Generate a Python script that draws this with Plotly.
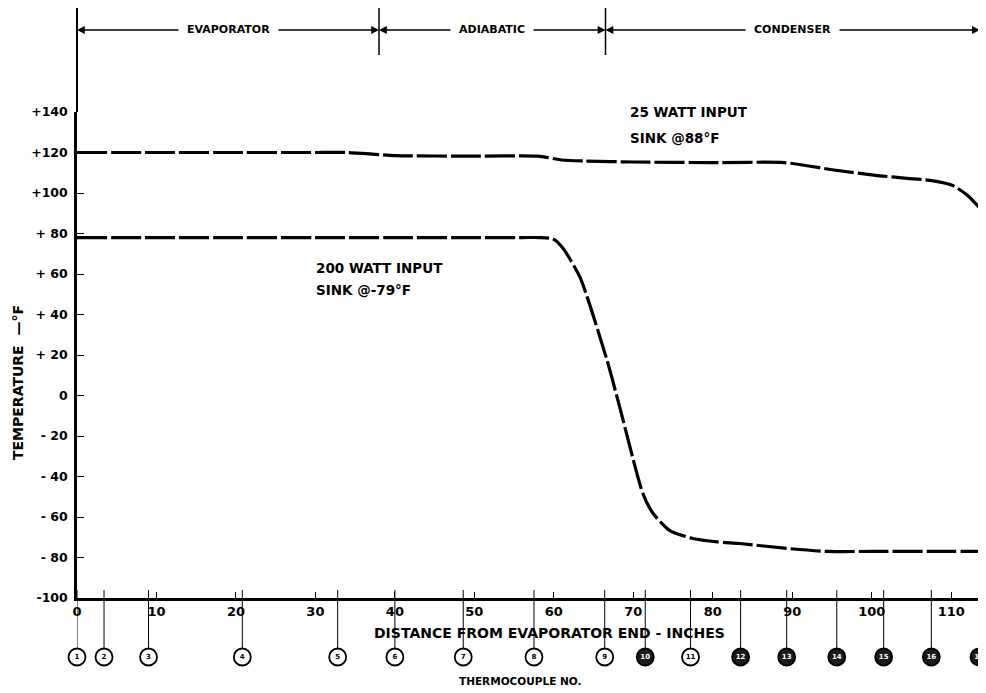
import plotly.graph_objects as go

# ---- data ----
distance_25w = [0, 10, 20, 30, 34, 40, 50, 58, 61, 64, 70, 80, 89, 95, 101, 107.3, 110.2, 112, 113.5]
temp_25w = [120, 120, 120, 120, 120, 118.5, 118.2, 118.2, 116.3, 115.8, 115.3, 115, 115, 111.5, 108.5, 106.2, 103.7, 99, 93]

distance_200w = [0, 10, 20, 30, 40, 50, 56, 58.2, 59.9, 61.1, 63.3, 66.7, 68.3, 71.2, 72.5, 74.6, 77.5, 80.6,
                 83.4, 89.3, 94.4, 100, 107, 113.5]
temp_200w = [78, 78, 78, 78, 78, 78, 78, 78, 77.3, 73, 58.3, 17.3, -5.9, -48.4, -58.3, -66.7, -70.6, -72.3,
             -73.1, -75.5, -77, -77, -77, -77]

tc_numbers = list(range(1, 18))
tc_distance = [0, 3.4, 9.0, 20.8, 32.8, 40.0, 48.6, 57.5, 66.4, 71.5, 77.2, 83.5, 89.3, 95.6, 101.5, 107.5, 113.5]
tc_dark = [10, 12, 13, 14, 15, 16, 17]

section_names = ["EVAPORATOR", "ADIABATIC", "CONDENSER"]
section_bounds = [0, 38, 66.5, 113.6]

y_ticks = [140, 120, 100, 80, 60, 40, 20, 0, -20, -40, -60, -80, -100]
y_tick_text = ["+140", "+120", "+100", "+ 80", "+ 60", "+ 40", "+ 20", "0", "- 20", "- 40", "- 60", "- 80", "-100"]
x_ticks = [0, 10, 20, 30, 40, 50, 60, 70, 80, 90, 100, 110]

FONT = "DejaVu Sans"

# ---- layout geometry (figure pixels) ----
W, H = 978, 685
ML, MR, MT, MB = 69, 3, 104, 20
PLOT_H = H - MT - MB
BOTTOM = H - MB


def py(fig_px):
    """figure pixel row -> paper y"""
    return (BOTTOM - fig_px) / PLOT_H


def bold(size, color="black"):
    return dict(family=FONT, size=size, weight="bold", color=color)


fig = go.Figure()

line_style = dict(color="black", width=3.2, dash="30px,4px", shape="spline", smoothing=0.6)
fig.add_trace(go.Scatter(x=distance_25w, y=temp_25w, mode="lines", line=line_style,
                         showlegend=False, hoverinfo="skip"))
fig.add_trace(go.Scatter(x=distance_200w, y=temp_200w, mode="lines", line=line_style,
                         showlegend=False, hoverinfo="skip"))

# thermocouple circles in a thin strip subplot below the main axis
fig.add_trace(go.Scatter(
    x=tc_distance, y=[0] * len(tc_distance), xaxis="x", yaxis="y2", mode="markers+text",
    text=[str(n) for n in tc_numbers], textposition="middle center",
    textfont=dict(family=FONT, size=7, weight="bold",
                  color=["white" if n in tc_dark else "black" for n in tc_numbers]),
    marker=dict(size=17, symbol="circle",
                color=["#1a1a1a" if n in tc_dark else "white" for n in tc_numbers],
                line=dict(color="black", width=1.8)),
    cliponaxis=False, showlegend=False, hoverinfo="skip"))

shapes = []
annotations = []

# thermocouple leader lines
for d in tc_distance:
    shapes.append(dict(type="line", xref="x", yref="paper", x0=d, x1=d, y0=py(582), y1=py(640),
                       line=dict(color="black", width=1), layer="below"))

# y axis extension to top
shapes.append(dict(type="line", xref="paper", yref="paper", x0=0, x1=0, y0=1, y1=py(-5),
                   line=dict(color="black", width=2)))
# section boundary verticals
for b in section_bounds[1:]:
    shapes.append(dict(type="line", xref="x", yref="paper", x0=b, x1=b, y0=py(47), y1=py(-5),
                       line=dict(color="black", width=1.5)))

HY = py(22)
for name, a, b in zip(section_names, section_bounds[:-1], section_bounds[1:]):
    mid = (a + b) / 2
    for end in (a, b):
        annotations.append(dict(x=end, y=HY, xref="x", yref="paper", ax=mid, ay=0, axref="x", ayref="pixel",
                                text="", showarrow=True, arrowhead=2, arrowsize=1.2, arrowwidth=1.3,
                                arrowcolor="black"))
    annotations.append(dict(x=mid, y=HY, xref="x", yref="paper", text=name, showarrow=False,
                            xanchor="center", yanchor="middle", bgcolor="white", borderpad=8,
                            font=bold(11)))

annotations += [
    dict(x=69.3, y=139.8, xref="x", yref="y", text="25 WATT INPUT", showarrow=False,
         xanchor="left", yanchor="middle", font=bold(13.5)),
    dict(x=69.3, y=127.4, xref="x", yref="y", text="SINK @88°F", showarrow=False,
         xanchor="left", yanchor="middle", font=bold(13.5)),
    dict(x=29.8, y=63.2, xref="x", yref="y", text="200 WATT INPUT", showarrow=False,
         xanchor="left", yanchor="middle", font=bold(13.5)),
    dict(x=29.8, y=51.9, xref="x", yref="y", text="SINK @-79°F", showarrow=False,
         xanchor="left", yanchor="middle", font=bold(13.5)),
    dict(x=0.522, y=py(625), xref="paper", yref="paper", text="DISTANCE FROM EVAPORATOR END - INCHES",
         showarrow=False, xanchor="center", yanchor="middle", font=bold(14)),
    dict(x=0.489, y=py(673), xref="paper", yref="paper", text="THERMOCOUPLE NO.",
         showarrow=False, xanchor="center", yanchor="middle", font=bold(10.5)),
    dict(x=-0.0651, y=py(375), xref="paper", yref="paper", text="TEMPERATURE  —°F", textangle=-90,
         showarrow=False, xanchor="center", yanchor="middle", font=bold(14)),
]

# circle centres at figure row 649
c = py(649)
fig.update_layout(
    width=W, height=H,
    margin=dict(l=ML, r=MR, t=MT, b=MB),
    paper_bgcolor="white", plot_bgcolor="white",
    shapes=shapes, annotations=annotations,
    font=dict(family=FONT, color="black"),
    xaxis=dict(range=[0, 114], tickvals=x_ticks, ticktext=[str(v) for v in x_ticks], anchor="y",
               showgrid=False, zeroline=False, showline=True, linecolor="black", linewidth=2.5,
               ticks="inside", ticklen=6, tickwidth=1.2, tickcolor="black",
               tickfont=bold(13)),
    yaxis=dict(domain=[py(590), 1], range=[-100, 140], tickvals=y_ticks, ticktext=y_tick_text,
               showgrid=False, zeroline=False, showline=True, linecolor="black", linewidth=2.5,
               ticks="inside", ticklen=7, tickwidth=1.2, tickcolor="black", ticklabelstandoff=4,
               tickfont=bold(12.5)),
    yaxis2=dict(domain=[0, 2 * c], range=[-1, 1], visible=False, fixedrange=True),
)

fig.write_html("out.html")
